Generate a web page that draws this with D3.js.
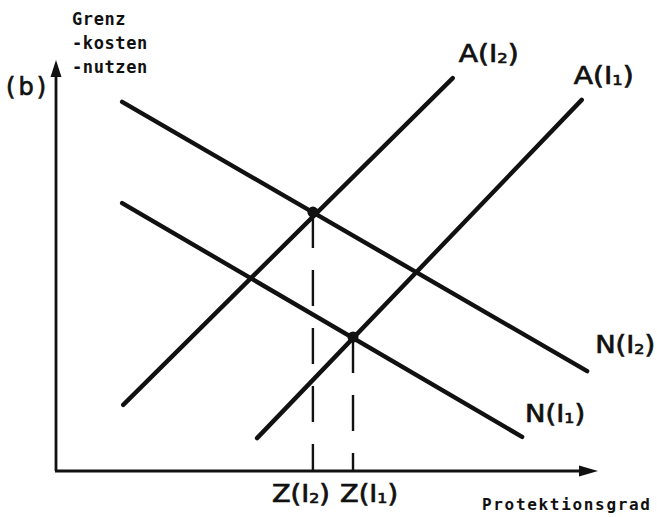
<!DOCTYPE html>
<html lang="de">
<head>
  <meta charset="UTF-8">
  <title>Grenzkosten / Grenznutzen</title>
  <script src="https://d3js.org/d3.v7.min.js"></script>
  <style>
    body { margin: 0; padding: 0; background: #fff; }
    text { fill: #111; }
    .lbl { font-family: "DejaVu Sans", sans-serif; font-size: 24px; stroke: #111; stroke-width: 0.7px; }
    .mono { font-family: "DejaVu Sans Mono", monospace; font-weight: bold; }
  </style>
</head>
<body>
<script>
  const width = 657
  const height = 517

  // curves (x: Protektionsgrad 0..10, y: Grenzkosten/-nutzen 0..10)
  const curveNames = ["A", "A", "N", "N"]
  const curveIndex = ["2", "1", "2", "1"]
  const curveStart = [[1.24, 1.61], [3.71, 0.80], [1.22, 8.98], [1.22, 6.52]]
  const curveEnd = [[7.32, 9.56], [9.70, 9.03], [9.80, 2.43], [8.60, 0.83]]

  // optimum points Z(I2), Z(I1)
  const optIndex = ["2", "1"]
  const optX = [4.74, 5.48]
  const optY = [6.30, 3.26]

  const x = d3.scaleLinear().domain([0, 10]).range([56, 598])
  const y = d3.scaleLinear().domain([0, 10]).range([471, 60])

  const svg = d3.select("body").append("svg")
    .attr("width", width)
    .attr("height", height)

  // axes with arrowheads
  svg.append("line")
    .attr("x1", x(0)).attr("y1", y(0))
    .attr("x2", x(0)).attr("y2", y(10) + 14)
    .attr("stroke", "#111").attr("stroke-width", 2.8)
  svg.append("line")
    .attr("x1", x(0) - 1).attr("y1", y(0))
    .attr("x2", x(10) - 16).attr("y2", y(0))
    .attr("stroke", "#111").attr("stroke-width", 2.8)
  svg.append("path")
    .attr("d", `M${x(0)},${y(10)} L${x(0) - 5.5},${y(10) + 17} L${x(0) + 5.5},${y(10) + 17} Z`)
    .attr("fill", "#111")
  svg.append("path")
    .attr("d", `M${x(10)},${y(0)} L${x(10) - 19},${y(0) - 5.5} L${x(10) - 19},${y(0) + 5.5} Z`)
    .attr("fill", "#111")

  // dashed drop lines
  svg.append("g").selectAll("line")
    .data(optX)
    .join("line")
    .attr("x1", d => x(d)).attr("x2", d => x(d))
    .attr("y1", (d, i) => y(optY[i]))
    .attr("y2", y(0))
    .attr("stroke", "#111")
    .attr("stroke-width", 2.4)
    .attr("stroke-dasharray", "36,22")

  // curves
  const line = d3.line().x(d => x(d[0])).y(d => y(d[1]))
  svg.append("g").selectAll("path")
    .data(curveStart.map((s, i) => [s, curveEnd[i]]))
    .join("path")
    .attr("d", line)
    .attr("fill", "none")
    .attr("stroke", "#111")
    .attr("stroke-width", 4.4)
    .attr("stroke-linecap", "round")

  // points
  svg.append("g").selectAll("circle")
    .data(optX)
    .join("circle")
    .attr("cx", d => x(d))
    .attr("cy", (d, i) => y(optY[i]))
    .attr("r", 5.5)
    .attr("fill", "#111")

  function subLabel(g, name, idx) {
    g.append("tspan").text(name + "(I")
    g.append("tspan").text(idx).attr("font-size", "14px").attr("dy", 1)
    g.append("tspan").text(")").attr("dy", -1)
  }

  // curve labels, placed next to each line end
  const labelOff = [[6, -16], [-8, -16], [8, -18], [3, -15]]
  curveNames.forEach((n, i) => {
    const t = svg.append("text")
      .attr("class", "lbl")
      .attr("x", x(curveEnd[i][0]) + labelOff[i][0])
      .attr("y", y(curveEnd[i][1]) + labelOff[i][1])
      .attr("textLength", 60)
      .attr("lengthAdjust", "spacingAndGlyphs")
    subLabel(t, n, curveIndex[i])
  })

  // Z labels under the axis
  const zOff = [-12, 16]
  optX.forEach((d, i) => {
    const t = svg.append("text")
      .attr("class", "lbl")
      .attr("text-anchor", "middle")
      .attr("x", x(d) + zOff[i])
      .attr("y", y(0) + 31)
      .attr("textLength", 58)
      .attr("lengthAdjust", "spacingAndGlyphs")
    subLabel(t, "Z", optIndex[i])
  })

  // axis titles
  const yTitle = ["Grenz", "-kosten", "-nutzen"]
  svg.append("g").selectAll("text")
    .data(yTitle)
    .join("text")
    .attr("class", "mono")
    .attr("x", 72)
    .attr("y", (d, i) => 25 + i * 24)
    .attr("font-size", "17px")
    .attr("letter-spacing", "0.6px")
    .text(d => d)

  svg.append("text")
    .attr("class", "lbl")
    .attr("x", 6)
    .attr("y", 95)
    .attr("font-size", "21px")
    .attr("textLength", 40)
    .attr("lengthAdjust", "spacing")
    .text("(b)")

  svg.append("text")
    .attr("class", "mono")
    .attr("x", 482)
    .attr("y", 510)
    .attr("font-size", "16px")
    .attr("textLength", 168)
    .attr("lengthAdjust", "spacing")
    .text("Protektionsgrad")
</script>
</body>
</html>
